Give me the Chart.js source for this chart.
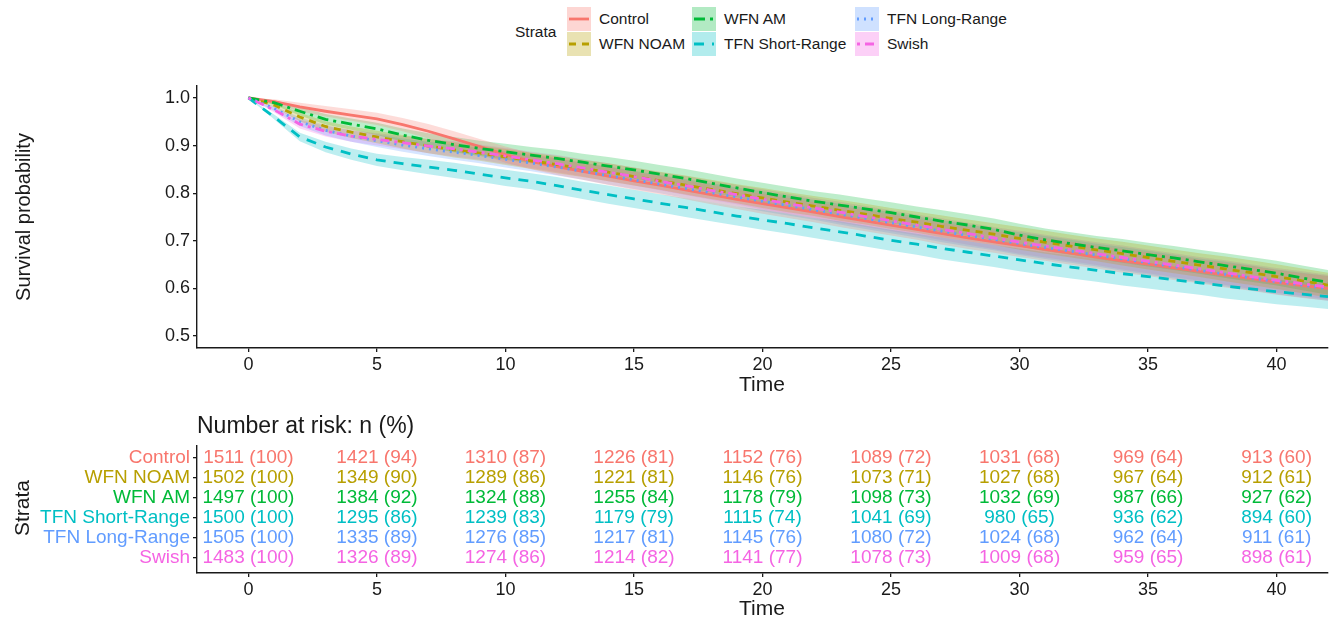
<!doctype html>
<html lang="en">
  <head>
    <meta charset="utf-8">
    <title>Survival by strata</title>
    <style>
      * { margin: 0; padding: 0; font-family: "Liberation Sans", Arial, sans-serif; }
      body { width: 1338px; height: 621px; background: white; overflow: hidden; position: relative; }
      .box { position: absolute; }
      .txt { position: absolute; color: #1a1a1a; white-space: nowrap; }
      .rot { transform: translate(-50%, -50%) rotate(-90deg); }
      .legKey { position: absolute; width: 24px; height: 24px; }
      .legLab { position: absolute; font-size: 15.5px; color: #1a1a1a; transform: translateY(-50%); white-space: nowrap; }
    </style>
  </head>
  <body>
    <div id="legend"></div>
    <div class="box" style="left:0;top:0;width:1338px;height:400px;"><canvas id="survChart"></canvas></div>
    <div class="box" style="left:0;top:400px;width:1338px;height:221px;"><canvas id="riskChart"></canvas></div>
    <div class="txt rot" style="left:23px;top:217px;font-size:20px;">Survival probability</div>
    <div class="txt" style="left:762px;top:384px;font-size:21px;transform:translate(-50%,-50%);">Time</div>
    <div class="txt" style="left:197px;top:425px;font-size:23px;transform:translateY(-50%);">Number at risk: n (%)</div>
    <div class="txt rot" style="left:22px;top:508px;font-size:21px;">Strata</div>
    <div class="txt" style="left:762px;top:608px;font-size:21px;transform:translate(-50%,-50%);">Time</div>
    <script src="https://cdn.jsdelivr.net/npm/chart.js/dist/chart.umd.min.js"></script>
    <script>
    // data
    const times = [0,1,2,3,4,5,6,7,8,9,10,11,12,13,14,15,16,17,18,19,20,21,22,23,24,25,26,27,28,29,30,31,32,33,34,35,36,37,38,39,40,41,42];
    const survControl = [1.0,0.992,0.981,0.972,0.964,0.956,0.944,0.93,0.914,0.898,0.881,0.867,0.856,0.846,0.836,0.826,0.817,0.807,0.797,0.787,0.778,0.769,0.76,0.751,0.742,0.733,0.724,0.715,0.706,0.698,0.69,0.682,0.674,0.666,0.658,0.651,0.643,0.636,0.628,0.621,0.613,0.606,0.6];
    const survWfnNoam = [1.0,0.985,0.96,0.94,0.928,0.918,0.908,0.899,0.891,0.884,0.876,0.868,0.86,0.852,0.844,0.835,0.826,0.817,0.808,0.799,0.79,0.781,0.773,0.764,0.756,0.747,0.739,0.73,0.722,0.714,0.705,0.697,0.689,0.681,0.673,0.665,0.657,0.649,0.641,0.633,0.625,0.616,0.607];
    const survWfnAm = [1.0,0.99,0.972,0.955,0.945,0.935,0.922,0.911,0.902,0.894,0.887,0.88,0.873,0.865,0.857,0.849,0.84,0.831,0.821,0.811,0.801,0.792,0.783,0.775,0.767,0.759,0.75,0.741,0.733,0.724,0.712,0.702,0.694,0.686,0.679,0.671,0.664,0.656,0.648,0.64,0.632,0.622,0.613];
    const survTfnShort = [1.0,0.96,0.918,0.897,0.882,0.87,0.862,0.855,0.848,0.84,0.832,0.825,0.816,0.806,0.797,0.788,0.779,0.77,0.761,0.752,0.744,0.736,0.727,0.719,0.71,0.701,0.693,0.684,0.676,0.668,0.66,0.652,0.645,0.638,0.631,0.625,0.618,0.612,0.605,0.599,0.593,0.588,0.583];
    const survTfnLong = [1.0,0.978,0.95,0.932,0.92,0.91,0.901,0.893,0.886,0.879,0.871,0.863,0.855,0.846,0.837,0.828,0.819,0.81,0.801,0.792,0.783,0.774,0.765,0.756,0.747,0.738,0.729,0.72,0.711,0.703,0.694,0.686,0.678,0.67,0.662,0.654,0.646,0.638,0.63,0.622,0.614,0.607,0.6];
    const survSwish = [1.0,0.975,0.945,0.93,0.92,0.913,0.906,0.899,0.893,0.886,0.878,0.87,0.862,0.853,0.844,0.835,0.825,0.816,0.806,0.797,0.787,0.778,0.769,0.76,0.751,0.742,0.733,0.724,0.715,0.706,0.697,0.689,0.681,0.673,0.665,0.657,0.649,0.641,0.633,0.625,0.617,0.61,0.603];
    // half width of the confidence band at each time
    const ciHalf = [0,0.005,0.009,0.011,0.012,0.013,0.014,0.015,0.016,0.016,0.017,0.017,0.018,0.018,0.019,0.019,0.019,0.02,0.02,0.02,0.021,0.021,0.021,0.022,0.022,0.022,0.022,0.023,0.023,0.023,0.024,0.024,0.024,0.024,0.025,0.025,0.025,0.025,0.026,0.026,0.026,0.026,0.026];

    const strataNames = ['Control', 'WFN NOAM', 'WFN AM', 'TFN Short-Range', 'TFN Long-Range', 'Swish'];
    const strataColors = ['#F8766D', '#B79F00', '#00BA38', '#00BFC4', '#619CFF', '#F564E3'];
    const strataDash = [[], [7, 6], [11, 5, 3, 5], [10, 8], [2, 5], [3, 5, 9, 5]];
    const survAll = [survControl, survWfnNoam, survWfnAm, survTfnShort, survTfnLong, survSwish];

    const xTicks = [0, 5, 10, 15, 20, 25, 30, 35, 40];
    const yTicks = [0.5, 0.6, 0.7, 0.8, 0.9, 1.0];

    // number at risk table
    const riskTimes = [0, 5, 10, 15, 20, 25, 30, 35, 40];
    const nControl = [1511, 1421, 1310, 1226, 1152, 1089, 1031, 969, 913];
    const pctControl = [100, 94, 87, 81, 76, 72, 68, 64, 60];
    const nWfnNoam = [1502, 1349, 1289, 1221, 1146, 1073, 1027, 967, 912];
    const pctWfnNoam = [100, 90, 86, 81, 76, 71, 68, 64, 61];
    const nWfnAm = [1497, 1384, 1324, 1255, 1178, 1098, 1032, 987, 927];
    const pctWfnAm = [100, 92, 88, 84, 79, 73, 69, 66, 62];
    const nTfnShort = [1500, 1295, 1239, 1179, 1115, 1041, 980, 936, 894];
    const pctTfnShort = [100, 86, 83, 79, 74, 69, 65, 62, 60];
    const nTfnLong = [1505, 1335, 1276, 1217, 1145, 1080, 1024, 962, 911];
    const pctTfnLong = [100, 89, 85, 81, 76, 72, 68, 64, 61];
    const nSwish = [1483, 1326, 1274, 1214, 1141, 1078, 1009, 959, 898];
    const pctSwish = [100, 89, 86, 82, 77, 73, 68, 65, 61];
    const riskN = [nControl, nWfnNoam, nWfnAm, nTfnShort, nTfnLong, nSwish];
    const riskPct = [pctControl, pctWfnNoam, pctWfnAm, pctTfnShort, pctTfnLong, pctSwish];

    function alpha(hex, a) {
      const r = parseInt(hex.slice(1, 3), 16), g = parseInt(hex.slice(3, 5), 16), b = parseInt(hex.slice(5, 7), 16);
      return 'rgba(' + r + ',' + g + ',' + b + ',' + a + ')';
    }

    const fontFamily = '"Liberation Sans", Arial, sans-serif';
    Chart.defaults.font.family = fontFamily;
    Chart.defaults.animation = false;

    // setup survival chart
    const lineSets = [];
    const bandSets = [];
    strataNames.forEach((name, i) => {
      const s = survAll[i];
      lineSets.push({
        label: name,
        data: times.map((t, k) => ({ x: t, y: s[k] })),
        borderColor: strataColors[i],
        borderWidth: 2.8,
        borderDash: strataDash[i],
        pointRadius: 0,
        fill: false,
        tension: 0
      });
      bandSets.push({
        label: name + ' upper',
        data: times.map((t, k) => ({ x: t, y: s[k] + ciHalf[k] })),
        borderWidth: 0,
        pointRadius: 0,
        backgroundColor: alpha(strataColors[i], 0.26),
        fill: '+1'
      });
      bandSets.push({
        label: name + ' lower',
        data: times.map((t, k) => ({ x: t, y: s[k] - ciHalf[k] })),
        borderWidth: 0,
        pointRadius: 0,
        fill: false
      });
    });
    // first dataset is drawn last, so Swish ends on top as in ggplot
    lineSets.reverse();

    const axisCommon = {
      border: { display: true, color: '#1a1a1a', width: 1.4 },
      grid: { display: true, drawOnChartArea: false, drawTicks: true, tickLength: 4, color: '#1a1a1a', lineWidth: 1.3 },
    };

    const survChart = new Chart(document.getElementById('survChart'), {
      type: 'line',
      data: { datasets: lineSets.concat(bandSets) },
      options: {
        responsive: true,
        maintainAspectRatio: false,
        layout: { padding: { top: 86, right: 10, left: 0, bottom: 0 } },
        plugins: { legend: { display: false }, tooltip: { enabled: false } },
        scales: {
          x: {
            type: 'linear', min: -2, max: 42,
            ...axisCommon,
            afterBuildTicks: s => { s.ticks = xTicks.map(v => ({ value: v })); },
            afterFit: s => { s.height = 52; },
            ticks: { color: '#1a1a1a', font: { size: 18 }, padding: 2, maxRotation: 0, autoSkip: false }
          },
          y: {
            type: 'linear', min: 0.475, max: 1.025,
            ...axisCommon,
            afterBuildTicks: s => { s.ticks = yTicks.map(v => ({ value: v })); },
            afterFit: s => { s.width = 197; },
            ticks: { color: '#1a1a1a', font: { size: 18 }, padding: 3, autoSkip: false, callback: v => v.toFixed(1) }
          }
        }
      }
    });

    // risk table text drawn through the chart's scales
    const riskText = {
      id: 'riskText',
      afterDatasetsDraw(chart) {
        const ctx = chart.ctx;
        const xs = chart.scales.x, ys = chart.scales.y;
        ctx.save();
        ctx.font = '19px ' + fontFamily;
        ctx.textAlign = 'center';
        ctx.textBaseline = 'middle';
        riskN.forEach((row, i) => {
          ctx.fillStyle = strataColors[i];
          row.forEach((n, k) => {
            ctx.fillText(n + ' (' + riskPct[i][k] + ')', xs.getPixelForValue(riskTimes[k]), ys.getPixelForValue(i + 1));
          });
        });
        ctx.restore();
      }
    };

    const riskChart = new Chart(document.getElementById('riskChart'), {
      type: 'scatter',
      data: { datasets: [] },
      plugins: [riskText],
      options: {
        responsive: true,
        maintainAspectRatio: false,
        layout: { padding: { top: 46, right: 10, left: 0, bottom: 0 } },
        plugins: { legend: { display: false }, tooltip: { enabled: false } },
        scales: {
          x: {
            type: 'linear', min: -2, max: 42,
            ...axisCommon,
            afterBuildTicks: s => { s.ticks = xTicks.map(v => ({ value: v })); },
            afterFit: s => { s.height = 48; },
            ticks: { color: '#1a1a1a', font: { size: 18 }, padding: 2, maxRotation: 0, autoSkip: false }
          },
          y: {
            type: 'linear', min: 0.4, max: 6.75, reverse: true,
            ...axisCommon,
            afterBuildTicks: s => { s.ticks = strataNames.map((n, i) => ({ value: i + 1 })); },
            afterFit: s => { s.width = 197; },
            ticks: {
              font: { size: 19 }, padding: 3, autoSkip: false,
              color: c => strataColors[c.index],
              callback: (v) => strataNames[Math.round(v) - 1]
            }
          }
        }
      }
    });

    // legend: "Strata" + 3 columns x 2 rows of keys
    const legend = document.getElementById('legend');
    const legTitle = document.createElement('div');
    legTitle.className = 'legLab';
    legTitle.style.left = '515px';
    legTitle.style.top = '32px';
    legTitle.textContent = 'Strata';
    legend.appendChild(legTitle);
    const keyCols = [567, 692, 855];
    const keyRows = [7, 32];
    strataNames.forEach((name, i) => {
      const col = Math.floor(i / 2), row = i % 2;
      const c = document.createElement('canvas');
      c.className = 'legKey';
      c.width = 24; c.height = 24;
      c.style.left = keyCols[col] + 'px';
      c.style.top = keyRows[row] + 'px';
      const g = c.getContext('2d');
      g.fillStyle = alpha(strataColors[i], 0.3);
      g.fillRect(0, 0, 24, 24);
      g.strokeStyle = strataColors[i];
      g.lineWidth = 2.8;
      g.setLineDash(strataDash[i]);
      g.beginPath(); g.moveTo(2, 12); g.lineTo(22, 12); g.stroke();
      legend.appendChild(c);
      const lab = document.createElement('div');
      lab.className = 'legLab';
      lab.style.left = (keyCols[col] + 32) + 'px';
      lab.style.top = (keyRows[row] + 12) + 'px';
      lab.textContent = name;
      legend.appendChild(lab);
    });
    </script>
  </body>
</html>
